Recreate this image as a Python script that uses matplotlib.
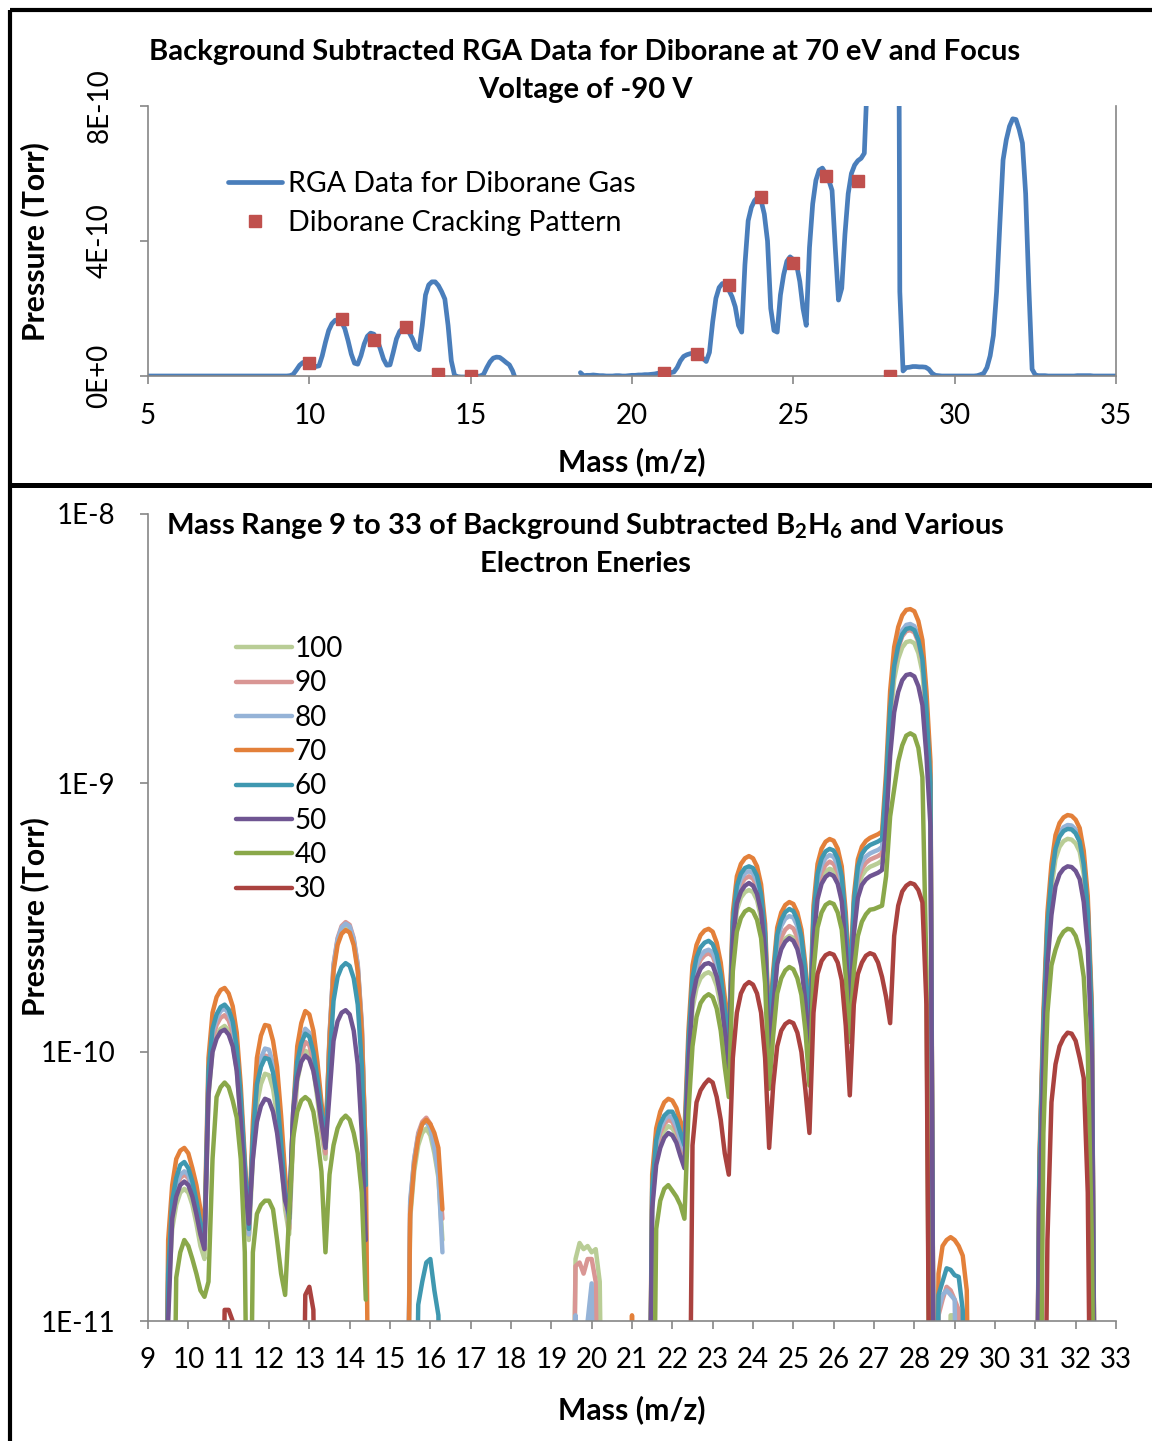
import numpy as np
import matplotlib
matplotlib.use("Agg")
import matplotlib.pyplot as plt
from matplotlib.lines import Line2D

plt.rcParams['font.family'] = ['Lato', 'DejaVu Sans']
plt.rcParams['mathtext.fontset'] = 'custom'
plt.rcParams['mathtext.rm'] = 'Lato'
plt.rcParams['mathtext.bf'] = 'Lato:bold'

UNIT = 1e-12  # all pressure values below are in units of 1E-12 Torr

# ---------------- top chart: RGA data (70 eV, focus -90 V), mass 5.0 .. 35.0 step 0.1
top_mass = np.round(np.arange(50, 351) * 0.1, 1)
top_rga = [
    0, 0, 0, 0, 0, 0, 0, 0, 0, 0,            # 5
    0, 0, 0, 0, 0, 0, 0, 0, 0, 0,            # 6
    0, 0, 0, 0, 0, 0, 0, 0, 0, 0,            # 7
    0, 0, 0, 0, 0, 0, 0, 0, 0, 0,            # 8
    0, 0, 0, 0, 1, 5, 18, 32, 40, 41,        # 9
    37, 32, 28, 30, 60, 100, 135, 155, 165, 166,   # 10
    160, 140, 105, 65, 38, 35, 60, 95, 118, 127,   # 11
    124, 108, 80, 50, 32, 33, 70, 110, 132, 142,   # 12
    140, 128, 110, 85, 78, 150, 240, 270, 279, 279,  # 13
    268, 250, 228, 150, 45, 2, -2, -3, -3, -2,     # 14
    -3, -2, -1, 0, 5, 25, 42, 53, 56, 55,          # 15
    48, 40, 33, 15, -12, None, None, None, None, None,  # 16
    None, None, None, None, None, None, None, None, None, None,  # 17
    None, None, None, None, 10, 1, 2, 2, 3, 2,     # 18
    1, 1, 0, 0, 0, 1, 1, 0, 0, 1,                  # 19
    2, 2, 3, 3, 4, 4, 5, 6, 8, 9,                  # 20
    9, 9, 10, 12, 25, 45, 58, 63, 66, 68,          # 21
    67, 60, 52, 43, 70, 160, 230, 262, 274, 272,   # 22
    255, 235, 205, 150, 130, 330, 460, 500, 520, 530,  # 23
    520, 480, 400, 200, 135, 130, 240, 300, 340, 353,  # 24
    345, 330, 280, 200, 150, 380, 510, 580, 610, 616,  # 25
    600, 580, 550, 380, 225, 260, 420, 540, 600, 625,  # 26
    638, 645, 660, 900, 2000, 3200, 3800, 4200, 4400, 4430,  # 27
    4350, 4000, 3000, 250, 15, 25, 26, 28, 28, 27,  # 28
    27, 26, 20, 8, 2, 1, 0, 0, 0, 0,                # 29
    0, 0, 0, 0, 0, 0, 0, 1, 4, 8,                   # 30
    25, 60, 120, 250, 450, 640, 700, 740, 762, 760,  # 31
    730, 690, 540, 260, 20, 3, 1, 1, 1, 0,          # 32
    0, 0, 0, 0, 0, 0, 0, 0, 1, 1,                   # 33
    1, 1, 1, 0, 0, 0, 0, 0, 0, 0,                   # 34
    0,                                              # 35
]
crack_mass = [10, 11, 12, 13, 14, 15, 21, 22, 23, 24, 25, 26, 27, 28]
crack_val = [38.5, 169, 107, 145, 6, 0.5, 10, 65, 270, 530, 336, 593, 578, 0.5]

# ---------------- bottom chart: mass 9.0 .. 33.0 step 0.1 (0 = no point, 1 = below axis)
bot_mass = np.round(np.arange(90, 331) * 0.1, 1)
ev_labels = ['100', '90', '80', '70', '60', '50', '40', '30']

s100 = [
    0, 0, 0, 0, 1, 12, 22, 27, 30, 31,
    30, 27, 23, 19, 17, 68, 102, 115, 122, 125,
    120, 108, 86, 56, 32, 20, 40, 64, 76, 83,
    82, 73, 58, 40, 26, 21, 48, 78, 92, 101,
    99, 86, 67, 50, 40, 112, 205, 257, 285, 295,
    288, 257, 205, 124, 38, 0, 0, 0, 0, 0,
    0, 0, 0, 0, 1, 24, 36, 45, 50, 52,
    49, 42, 34, 20, 0, 0, 0, 0, 0, 0,
    0, 0, 0, 0, 0, 0, 0, 0, 0, 0,
    0, 0, 0, 0, 0, 0, 0, 0, 0, 0,
    0, 0, 0, 0, 0, 1, 17, 19.5, 18.5, 19,
    18, 18.5, 14, 1, 0, 0, 0, 0, 0, 0,
    0, 0, 0, 0, 1, 27, 41, 47, 51, 53,
    52, 49, 43, 39, 83, 145, 173, 188, 195, 198,
    193, 176, 148, 110, 80, 247, 337, 375, 393, 400,
    393, 367, 315, 225, 94, 150, 218, 248, 264, 270,
    266, 248, 214, 158, 98, 271, 388, 442, 469, 480,
    473, 442, 380, 256, 140, 296, 406, 452, 475, 488,
    495, 503, 515, 840, 1670, 2430, 2890, 3190, 3340, 3370,
    3310, 3040, 2580, 1670, 910, 1, 0, 0, 1, 10.5,
    10.5, 1, 0, 0, 0, 0, 0, 0, 0, 0,
    0, 0, 0, 0, 0, 0, 0, 0, 0, 0,
    1, 33, 114, 269, 408, 522, 579, 608, 620, 616,
    596, 555, 457, 310, 122, 1, 0, 0, 0, 0,
    0,
]
s90 = [
    0, 0, 0, 0, 1, 14, 25, 31, 34, 35,
    34, 30, 25, 21, 18.5, 75, 112, 126, 134, 137,
    131, 118, 94, 62, 34, 21, 46, 75, 89, 97,
    96, 85, 68, 45, 29, 22, 52, 84, 99, 109,
    106, 92, 72, 54, 42, 115, 212, 265, 294, 304,
    297, 265, 212, 128, 40, 0, 0, 0, 0, 0,
    0, 0, 0, 0, 1, 27, 40, 50, 55, 57,
    54, 46, 38, 24, 0, 0, 0, 0, 0, 0,
    0, 0, 0, 0, 0, 0, 0, 0, 0, 0,
    0, 0, 0, 0, 0, 0, 0, 0, 0, 0,
    0, 0, 0, 0, 0, 1, 16, 16.5, 15, 17,
    17, 14, 1, 0, 0, 0, 0, 0, 0, 0,
    0, 0, 0, 0, 1, 29, 43, 50, 54, 56,
    55, 51, 46, 42, 97, 170, 203, 220, 229, 233,
    227, 207, 174, 130, 93, 277, 378, 420, 441, 450,
    441, 412, 353, 252, 105, 162, 235, 267, 285, 294,
    288, 267, 231, 170, 105, 287, 410, 467, 496, 510,
    500, 467, 402, 271, 148, 315, 432, 481, 505, 519,
    527, 535, 548, 920, 1840, 2670, 3170, 3510, 3670, 3700,
    3630, 3340, 2840, 1840, 1000, 1, 10.5, 12, 13.4, 13,
    12, 11, 1, 0, 0, 0, 0, 0, 0, 0,
    0, 0, 0, 0, 0, 0, 0, 0, 0, 0,
    1, 36, 125, 295, 448, 573, 635, 667, 680, 676,
    653, 609, 501, 340, 134, 1, 0, 0, 0, 0,
    0,
]
s80 = [
    0, 0, 0, 0, 1, 14, 26, 32, 35, 36,
    35, 31, 26, 22, 19, 80, 118, 133, 142, 145,
    139, 125, 100, 65, 36, 21, 48, 80, 95, 103,
    102, 90, 72, 48, 30, 23, 55, 92, 110, 122,
    118, 102, 80, 58, 44, 115, 210, 262, 290, 300,
    293, 262, 210, 125, 40, 0, 0, 0, 0, 0,
    0, 0, 0, 0, 1, 28, 40, 49, 54, 55,
    52, 44, 35, 18, 0, 0, 0, 0, 0, 0,
    0, 0, 0, 0, 0, 0, 0, 0, 0, 0,
    0, 0, 0, 0, 0, 0, 0, 0, 0, 0,
    0, 0, 0, 0, 0, 1, 10.5, 1, 1, 10,
    13.8, 1, 0, 0, 0, 0, 0, 0, 0, 0,
    0, 0, 0, 0, 1, 30, 45, 52, 56, 58,
    57, 53, 47, 43, 101, 176, 210, 228, 237, 240,
    235, 214, 180, 134, 97, 290, 396, 440, 462, 470,
    462, 431, 370, 264, 110, 178, 258, 294, 313, 320,
    316, 294, 254, 187, 116, 305, 435, 496, 526, 540,
    531, 496, 426, 287, 157, 332, 455, 508, 533, 547,
    556, 564, 578, 970, 1940, 2820, 3340, 3700, 3870, 3900,
    3830, 3520, 2990, 1940, 1060, 1, 11, 12.5, 13, 12.5,
    12, 1, 0, 0, 0, 0, 0, 0, 0, 0,
    0, 0, 0, 0, 0, 0, 0, 0, 0, 0,
    1, 37, 129, 304, 460, 589, 653, 685, 698, 695,
    672, 626, 515, 350, 138, 1, 0, 0, 0, 0,
    0,
]
s70 = [
    0, 0, 0, 0, 1, 20, 32, 40, 43, 44,
    42, 37, 32, 26, 22, 95, 140, 160, 170, 173,
    165, 148, 118, 75, 40, 22, 55, 95, 115, 126,
    125, 110, 88, 58, 35, 24, 60, 105, 128, 142,
    138, 120, 92, 65, 48, 110, 200, 250, 275, 284,
    278, 250, 200, 120, 40, 1, 0, 0, 0, 0,
    0, 0, 0, 0, 1, 25, 38, 48, 54, 56,
    54, 50, 44, 26, 0, 0, 0, 0, 0, 0,
    0, 0, 0, 0, 0, 0, 0, 0, 0, 0,
    0, 0, 0, 0, 0, 0, 0, 0, 0, 0,
    0, 0, 0, 0, 0, 0, 0, 0, 0, 0,
    0, 0, 0, 0, 0, 0, 0, 0, 0, 1,
    10.5, 1, 0, 0, 1, 35, 52, 60, 65, 67,
    66, 62, 55, 50, 120, 210, 250, 272, 283, 287,
    280, 255, 215, 160, 115, 330, 450, 500, 525, 535,
    525, 490, 420, 300, 125, 200, 290, 330, 352, 361,
    355, 330, 285, 210, 130, 350, 500, 570, 605, 619,
    610, 570, 490, 330, 180, 380, 520, 580, 609, 625,
    635, 645, 660, 1100, 2200, 3200, 3800, 4200, 4400, 4430,
    4350, 4000, 3400, 2200, 1200, 1, 15, 19, 20, 20.5,
    20, 19, 17.5, 13, 1, 0, 0, 0, 0, 0,
    0, 0, 0, 0, 0, 0, 0, 0, 0, 0,
    1, 40, 140, 330, 500, 640, 710, 745, 760, 755,
    730, 680, 560, 380, 150, 1, 0, 0, 0, 0,
    0,
]
s60 = [
    0, 0, 0, 0, 1, 15, 28, 34, 38, 39,
    37, 33, 28, 23, 20, 85, 122, 138, 147, 150,
    144, 130, 104, 68, 38, 22, 48, 76, 88, 95,
    94, 84, 68, 46, 30, 24, 60, 92, 108, 117,
    114, 100, 80, 60, 46, 90, 155, 190, 207, 214,
    209, 188, 150, 90, 32, 0, 0, 0, 0, 0,
    0, 0, 0, 0, 0, 0, 1, 11.5, 14, 16.5,
    17, 13, 10.5, 1, 0, 0, 0, 0, 0, 0,
    0, 0, 0, 0, 0, 0, 0, 0, 0, 0,
    0, 0, 0, 0, 0, 0, 0, 0, 0, 0,
    0, 0, 0, 0, 0, 0, 0, 0, 0, 0,
    0, 0, 0, 0, 0, 0, 0, 0, 0, 0,
    0, 0, 0, 0, 1, 31, 47, 54, 58, 60,
    60, 56, 50, 45, 108, 189, 225, 245, 255, 259,
    252, 230, 194, 144, 104, 304, 414, 460, 483, 490,
    483, 451, 386, 276, 115, 188, 273, 310, 331, 340,
    334, 310, 268, 197, 122, 322, 460, 524, 557, 569,
    561, 524, 451, 304, 166, 357, 489, 545, 572, 588,
    597, 606, 620, 1000, 1870, 2720, 3230, 3570, 3740, 3770,
    3700, 3400, 2890, 1870, 1000, 1, 12.5, 14, 15.7, 15.5,
    14.8, 14.6, 11, 1, 0, 0, 0, 0, 0, 0,
    0, 0, 0, 0, 0, 0, 0, 0, 0, 0,
    1, 36, 125, 295, 445, 570, 632, 663, 675, 672,
    650, 605, 498, 338, 134, 1, 0, 0, 0, 0,
    0,
]
s50 = [
    0, 0, 0, 0, 1, 10, 24, 29, 32, 33,
    32, 29, 25, 21, 18.5, 70, 100, 112, 119, 121,
    116, 105, 85, 55, 33, 23, 40, 55, 63, 67,
    66, 60, 50, 38, 28, 25, 60, 80, 92, 97,
    94, 85, 70, 55, 44, 70, 110, 130, 140, 143,
    138, 120, 90, 50, 20, 0, 0, 0, 0, 0,
    0, 0, 0, 0, 0, 0, 0, 0, 0, 0,
    0, 0, 0, 0, 0, 0, 0, 0, 0, 0,
    0, 0, 0, 0, 0, 0, 0, 0, 0, 0,
    0, 0, 0, 0, 0, 0, 0, 0, 0, 0,
    0, 0, 0, 0, 0, 0, 0, 0, 0, 0,
    0, 0, 0, 0, 0, 0, 0, 0, 0, 0,
    0, 0, 0, 0, 1, 26, 38, 44, 48, 50,
    49, 46, 41, 37, 90, 158, 188, 204, 212, 214,
    210, 191, 161, 120, 86, 261, 356, 395, 415, 425,
    415, 387, 332, 237, 99, 146, 212, 241, 257, 265,
    259, 241, 208, 153, 95, 259, 370, 422, 448, 460,
    451, 422, 363, 244, 133, 274, 374, 418, 438, 450,
    457, 464, 475, 700, 1260, 1830, 2180, 2410, 2520, 2540,
    2490, 2290, 1950, 1260, 690, 1, 0, 0, 0, 0,
    0, 0, 0, 0, 0, 0, 0, 0, 0, 0,
    0, 0, 0, 0, 0, 0, 0, 0, 0, 0,
    1, 26, 90, 213, 323, 413, 458, 480, 490, 487,
    471, 439, 361, 245, 97, 1, 0, 0, 0, 0,
    0,
]
s40 = [
    0, 0, 0, 0, 0, 0, 1, 14.5, 18, 20,
    19, 17, 15, 13, 12.3, 14, 40, 68, 74, 77,
    74, 66, 57, 40, 18, 1, 18, 25, 27, 28,
    28, 26, 20, 15, 12.5, 25, 48, 60, 66, 68,
    66, 60, 48, 36, 18, 35, 45, 52, 56, 58,
    56, 50, 42, 30, 12, 0, 0, 0, 0, 0,
    0, 0, 0, 0, 0, 0, 0, 0, 0, 0,
    0, 0, 0, 0, 0, 0, 0, 0, 0, 0,
    0, 0, 0, 0, 0, 0, 0, 0, 0, 0,
    0, 0, 0, 0, 0, 0, 0, 0, 0, 0,
    0, 0, 0, 0, 0, 0, 0, 0, 0, 0,
    0, 0, 0, 0, 0, 0, 0, 0, 0, 0,
    0, 0, 0, 0, 0, 1, 22, 28, 31, 32,
    30.5, 29, 27, 24, 60, 105, 135, 152, 160, 164,
    160, 145, 120, 88, 68, 200, 280, 315, 333, 340,
    333, 310, 265, 180, 73, 115, 165, 188, 201, 207,
    203, 188, 163, 120, 75, 200, 290, 330, 352, 360,
    355, 330, 285, 190, 109, 200, 270, 305, 325, 338,
    340, 345, 350, 450, 750, 950, 1200, 1380, 1500, 1530,
    1500, 1350, 1050, 200, 1, 0, 0, 0, 0, 0,
    0, 0, 0, 0, 0, 0, 0, 0, 0, 0,
    0, 0, 0, 0, 0, 0, 0, 0, 0, 0,
    0, 1, 50, 140, 210, 240, 265, 280, 287, 285,
    270, 240, 190, 100, 20, 1, 0, 0, 0, 0,
    0,
]
s30 = [
    0, 0, 0, 0, 0, 0, 0, 0, 0, 0,
    0, 0, 0, 0, 0, 0, 0, 0, 1, 11,
    11, 10, 1, 0, 0, 0, 0, 0, 0, 0,
    0, 0, 0, 0, 0, 0, 0, 0, 1, 12.5,
    13.4, 11, 1, 0, 0, 0, 0, 0, 0, 0,
    0, 0, 0, 0, 0, 0, 0, 0, 0, 0,
    0, 0, 0, 0, 0, 0, 0, 0, 0, 0,
    0, 0, 0, 0, 0, 0, 0, 0, 0, 0,
    0, 0, 0, 0, 0, 0, 0, 0, 0, 0,
    0, 0, 0, 0, 0, 0, 0, 0, 0, 0,
    0, 0, 0, 0, 0, 0, 0, 0, 0, 0,
    0, 0, 0, 0, 0, 0, 0, 0, 0, 0,
    0, 0, 0, 0, 0, 0, 0, 0, 0, 0,
    0, 0, 0, 0, 1, 45, 65, 72, 76, 79,
    77, 68, 56, 42, 35, 95, 140, 165, 177, 182,
    178, 165, 140, 95, 44, 75, 105, 120, 127, 130,
    128, 118, 100, 72, 50, 140, 195, 218, 229, 233,
    230, 215, 185, 125, 69, 150, 195, 215, 228, 233,
    230, 215, 190, 160, 128, 270, 350, 395, 415, 425,
    420, 400, 360, 150, 1, 0, 0, 0, 0, 0,
    0, 0, 0, 0, 0, 0, 0, 0, 0, 0,
    0, 0, 0, 0, 0, 0, 0, 0, 0, 0,
    0, 0, 1, 20, 65, 90, 105, 113, 118, 117,
    110, 95, 80, 30, 1, 0, 0, 0, 0, 0,
    0,
]
ev_series = [s100, s90, s80, s70, s60, s50, s40, s30]
ev_colors = ['#B9CD96', '#D99694', '#95B3D7', '#E3803A',
             '#3F98B0', '#6F5592', '#8AA84A', '#AA423F']

top_yticks = [0, 4e-10, 8e-10]
top_yticklabels = ['0E+0', '4E-10', '8E-10']
bot_yticks = [1e-11, 1e-10, 1e-9, 1e-8]
bot_yticklabels = ['1E-11', '1E-10', '1E-9', '1E-8']

W, H = 1152, 1441
fig = plt.figure(figsize=(W / 100, H / 100), dpi=100)
fig.patch.set_facecolor('white')

def fx(px):
    return px / W

def fy(py):
    return 1 - py / H

GRAY = '#868686'
FS = 20

# ---------- top axes
ax1 = fig.add_axes([fx(148), fy(376), fx(1116) - fx(148), fy(106) - fy(376)])
yt = np.array(top_rga, dtype=float) * UNIT
ax1.plot(top_mass, yt, color='#4A7EBB', lw=3.4, solid_capstyle='round',
         label='RGA Data for Diborane Gas', zorder=2)
ax1.plot(crack_mass, np.array(crack_val) * UNIT, ls='none', marker='s', ms=8.5,
         color='#C0504D', mec='#C0504D', label='Diborane Cracking Pattern', zorder=3)
ax1.set_xlim(5, 35)
ax1.set_ylim(0, 8e-10)
ax1.set_xticks([5, 10, 15, 20, 25, 30, 35])
ax1.set_yticks(top_yticks)
ax1.set_yticklabels(top_yticklabels, rotation=90, va='center')
ax1.tick_params(axis='x', direction='out', length=5.5, width=1.2, color=GRAY,
                labelsize=FS, pad=14)
ax1.tick_params(axis='y', direction='out', length=5.5, width=1.2, color=GRAY,
                labelsize=FS, pad=20)
for s in ['left', 'bottom', 'right']:
    ax1.spines[s].set_color(GRAY)
    ax1.spines[s].set_linewidth(1.2)
ax1.spines['top'].set_visible(False)
leg1 = ax1.legend(loc='upper left', bbox_to_anchor=(fx(228), fy(171)),
                  bbox_transform=fig.transFigure, frameon=False, fontsize=20.5,
                  handlelength=1.9, handletextpad=0.2, labelspacing=0.45,
                  borderpad=0, borderaxespad=0)

# ---------- bottom axes
ax2 = fig.add_axes([fx(148), fy(1321), fx(1116) - fx(148), fy(514) - fy(1321)])
for lab, vals, col in zip(ev_labels, ev_series, ev_colors):
    v = np.array(vals, dtype=float)
    v[v <= 0] = np.nan
    ax2.plot(bot_mass, v * UNIT, color=col, lw=3.2, label=lab,
             solid_joinstyle='round', solid_capstyle='round')
ax2.set_yscale('log')
ax2.set_xlim(9, 33)
ax2.set_ylim(1e-11, 1e-8)
ax2.set_xticks(np.arange(9, 34))
ax2.set_yticks(bot_yticks)
ax2.set_yticklabels(bot_yticklabels)
ax2.yaxis.set_minor_locator(matplotlib.ticker.NullLocator())
ax2.tick_params(axis='x', direction='out', length=5.5, width=1.2, color=GRAY,
                labelsize=FS, pad=13)
ax2.tick_params(axis='y', direction='out', length=5.5, width=1.2, color=GRAY,
                labelsize=FS, pad=18)
for s in ['left', 'bottom']:
    ax2.spines[s].set_color(GRAY)
    ax2.spines[s].set_linewidth(1.2)
ax2.spines['top'].set_visible(False)
ax2.spines['right'].set_visible(False)
leg2 = ax2.legend(loc='upper left', bbox_to_anchor=(fx(236), fy(636)),
                  bbox_transform=fig.transFigure, frameon=False, fontsize=FS,
                  handlelength=2.0, handletextpad=0.1, labelspacing=0.30,
                  borderpad=0, borderaxespad=0)

# ---------- titles & labels
TFS = 21
LFS = 21.7
fig.text(fx(585), fy(52), 'Background Subtracted RGA Data for Diborane at 70 eV and Focus',
         ha='center', va='center', fontsize=TFS, fontweight='bold')
fig.text(fx(585), fy(90), 'Voltage of -90 V', ha='center', va='center',
         fontsize=TFS, fontweight='bold')
fig.text(fx(585), fy(526),
         r'Mass Range 9 to 33 of Background Subtracted $\mathbf{B_2H_6}$ and Various',
         ha='center', va='center', fontsize=TFS, fontweight='bold')
fig.text(fx(585), fy(564), 'Electron Eneries', ha='center', va='center',
         fontsize=TFS, fontweight='bold')
fig.text(fx(35), fy(242), 'Pressure (Torr)', rotation=90, ha='center', va='center',
         fontsize=LFS, fontweight='bold')
fig.text(fx(35), fy(917), 'Pressure (Torr)', rotation=90, ha='center', va='center',
         fontsize=LFS, fontweight='bold')
fig.text(fx(632), fy(462), 'Mass (m/z)', ha='center', va='center',
         fontsize=LFS, fontweight='bold')
fig.text(fx(632), fy(1410), 'Mass (m/z)', ha='center', va='center',
         fontsize=LFS, fontweight='bold')

# ---------- black panel frames
for (x0, y0, x1, y1, lw) in [(10, 10, 10, 1441, 3.0), (10, 10, 1152, 10, 3.0),
                              (10, 484.5, 1152, 484.5, 3.6)]:
    fig.add_artist(Line2D([fx(x0), fx(x1)], [fy(y0), fy(y1)], color='black',
                          lw=lw, transform=fig.transFigure, solid_capstyle='butt'))

fig.savefig('out.png', dpi=100, facecolor='white')
